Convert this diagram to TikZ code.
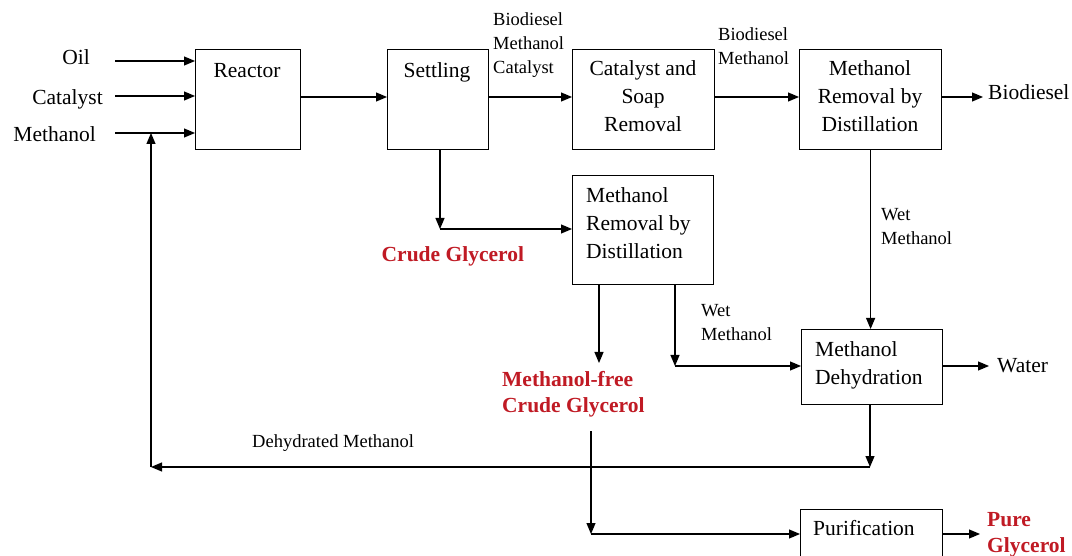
\documentclass[tikz,border=0pt]{standalone}
\usepackage{fontspec}
\setmainfont{Liberation Serif}
\usetikzlibrary{arrows.meta}
\definecolor{glyred}{RGB}{192,26,36}
\begin{document}
\begin{tikzpicture}[x=1pt,y=-1pt,
  box/.style={draw, line width=1.2pt, inner sep=0pt, anchor=north west},
  flow/.style={line width=1.2pt, -{Triangle[length=11pt,width=9pt]}},
  tbig/.style={font=\fontsize{21.5}{28}\selectfont, inner sep=0pt},
  tsmall/.style={font=\fontsize{18.5}{24}\selectfont, inner sep=0pt, align=left},
  tred/.style={text=glyred, font=\bfseries\fontsize{21.5}{26}\selectfont, inner sep=0pt, align=left}]
\clip (0,0) rectangle (1072,556);
\fill[white] (0,0) rectangle (1072,556);
% boxes
\node[box, minimum width=105pt, minimum height=100pt] (reactor) at (195,49) {};
\node[box, minimum width=101pt, minimum height=100pt] (settling) at (387,49) {};
\node[box, minimum width=142pt, minimum height=100pt] (csr) at (572,49) {};
\node[box, minimum width=142pt, minimum height=100pt] (mr1) at (799,49) {};
\node[box, minimum width=141pt, minimum height=109pt] (mr2) at (572,175) {};
\node[box, minimum width=141pt, minimum height=75pt] (dehy) at (801,329) {};
\node[box, minimum width=142pt, minimum height=50pt] (puri) at (800,509) {};
% box texts
\node[tbig, anchor=base] (reactorT) at (247,78) {Reactor};
\node[tbig, anchor=base] (settlingT) at (437,78) {Settling};
\node[tbig, anchor=north, align=center] (csrT) at (643,60) {Catalyst and\\Soap\\Removal};
\node[tbig, anchor=north, align=center] (mr1T) at (870,60) {Methanol\\Removal by\\Distillation};
\node[tbig, anchor=north west, align=left] (mr2T) at (586,187) {Methanol\\Removal by\\Distillation};
\node[tbig, anchor=north west, align=left] (dehyT) at (815,341) {Methanol\\Dehydration};
\node[tbig, anchor=base west] (puriT) at (813,535) {Purification};
% inputs
\node[tbig, anchor=base east] (oil) at (90,65) {Oil};
\node[tbig, anchor=base east] (cat) at (103,105) {Catalyst};
\node[tbig, anchor=base east] (meth) at (96,142) {Methanol};
\coordinate (oilS) at (115,61);
\coordinate (catS) at (115,96);
\coordinate (methS) at (115,133);
\draw[flow] (oilS) -- (oilS -| reactor.west);
\draw[flow] (catS) -- (catS -| reactor.west);
\draw[flow] (methS) -- (methS -| reactor.west);
% main line
\coordinate (mainY) at (0,97);
\draw[flow] (mainY -| reactor.east) -- (mainY -| settling.west);
\draw[flow] (mainY -| settling.east) -- (mainY -| csr.west);
\draw[flow] (mainY -| csr.east) -- (mainY -| mr1.west);
\coordinate (bioE) at (983,97);
\draw[flow] (mainY -| mr1.east) -- (bioE);
\node[tbig, anchor=base west] (bio) at (988,100) {Biodiesel};
\node[tsmall, anchor=north west] (bmc) at (493,12) {Biodiesel\\Methanol\\Catalyst};
\node[tsmall, anchor=north west] (bm) at (718,27) {Biodiesel\\Methanol};
% settling -> crude glycerol -> mr2
\coordinate (sc) at (440,229);
\draw[flow] (sc |- settling.south) -- (sc);
\draw[flow] (sc) -- (sc -| mr2.west);
\node[tred, anchor=base west] (crude) at (381.5,262) {Crude Glycerol};
% mr2 outputs
\coordinate (mfE) at (599,363);
\draw[flow] (mfE |- mr2.south) -- (mfE);
\node[tred, anchor=north west] (mfree) at (502,371) {Methanol-free\\Crude Glycerol};
\coordinate (wc) at (675,366);
\draw[flow] (wc |- mr2.south) -- (wc);
\draw[flow] (wc) -- (wc -| dehy.west);
\node[tsmall, anchor=north west] (wet2) at (701,304) {Wet\\Methanol};
% mr1 -> dehydration
\draw[flow] (mr1.south) -- (mr1.south |- dehy.north);
\node[tsmall, anchor=north west] (wet1) at (881,208) {Wet\\Methanol};
% dehydration outputs
\coordinate (waterE) at (989,366);
\draw[flow] (waterE -| dehy.east) -- (waterE);
\node[tbig, anchor=base west] (water) at (997,373) {Water};
\coordinate (dc) at (870,467);
\draw[flow] (dc |- dehy.south) -- (dc);
\coordinate (rc) at (151,467);
\draw[flow] (dc) -- (rc);
\draw[flow] (rc) -- (rc |- methS);
\node[font=\fontsize{18.5}{22}\selectfont, inner sep=0pt, anchor=base west] (dm) at (252,447) {Dehydrated Methanol};
% glycerol to purification
\coordinate (gS) at (591,431);
\coordinate (gc) at (591,534);
\draw[flow] (gS) -- (gc);
\draw[flow] (gc) -- (gc -| puri.west);
\coordinate (pureE) at (980,534);
\draw[flow] (gc -| puri.east) -- (pureE);
\node[tred, anchor=north west] (pure) at (987,512) {Pure\\Glycerol};
\end{tikzpicture}
\end{document}
